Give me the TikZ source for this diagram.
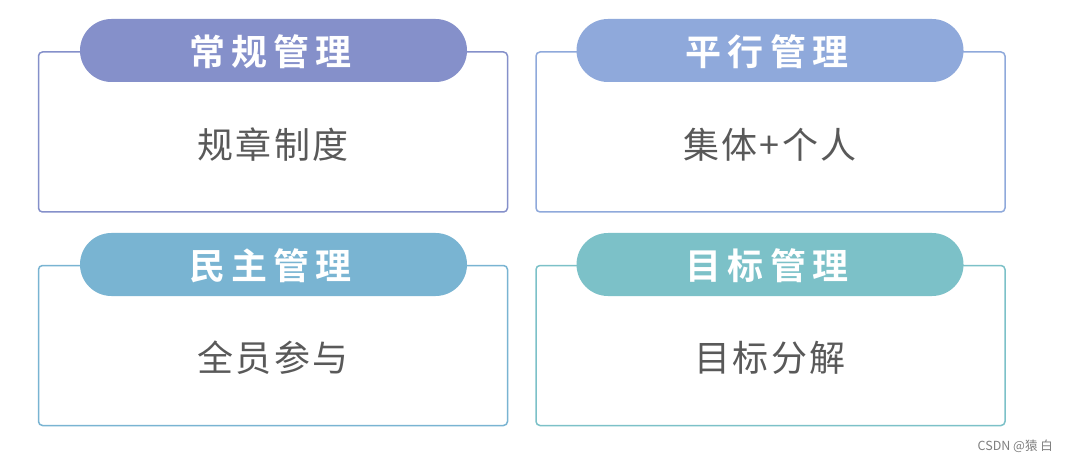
\documentclass[tikz,border=0pt]{standalone}
\usepackage{fontspec}
\setmainfont{Noto Sans CJK SC}
\newfontfamily\cjk{Noto Sans CJK SC}
\newfontfamily\titlefont[LetterSpace=17]{Noto Sans CJK SC Bold}
\newfontfamily\bodyfont[LetterSpace=6]{Noto Sans CJK SC}
\definecolor{purpleA}{HTML}{8590CA}
\definecolor{blueA}{HTML}{8FA9DB}
\definecolor{blueB}{HTML}{79B4D2}
\definecolor{tealA}{HTML}{7CC1C8}
\definecolor{textgray}{HTML}{595959}
\begin{document}
\begin{tikzpicture}[x=1pt, y=-1pt,
				frame/.style={rectangle, draw, line width=1.5pt, rounded corners=4pt, minimum width=469pt, minimum height=160pt, inner sep=0pt},
				pill/.style={rectangle, rounded corners=31.5pt, minimum width=387pt, minimum height=63pt, inner sep=0pt, text=white, font=\titlefont\fontsize{36}{42}\selectfont},
				content/.style={text=textgray, inner sep=0pt, font=\bodyfont\fontsize{36}{42}\selectfont},
				watermarktext/.style={text=gray, inner sep=0pt, font=\cjk\fontsize{12.5}{14}\selectfont}
				]
				\useasboundingbox[fill=white] (0,0) rectangle (1067,462);
				% top row
				\node[frame, draw=purpleA] (routine) at (273,132) {};
				\node[pill, fill=purpleA, text depth=0pt] (routinetitle) at (273.5,50.5) {\hspace{-6pt}常规管理};
				\node[content] (routinetext) at (273,145) {规章制度};
				\node[frame, draw=blueA] (parallel) at (770.5,132) {};
				\node[pill, fill=blueA, text depth=0pt] (paralleltitle) at (770,50.5) {\hspace{-6pt}平行管理};
				\node[content] (paralleltext) at (770,145) {集体+个人};
				% bottom row
				\node[frame, draw=blueB] (democratic) at (273,345.5) {};
				\node[pill, fill=blueB, text depth=0pt] (democratictitle) at (273.5,264.5) {\hspace{-6pt}民主管理};
				\node[content] (democratictext) at (273,358) {全员参与};
				\node[frame, draw=tealA] (objective) at (770.5,345.5) {};
				\node[pill, fill=tealA, text depth=0pt] (objectivetitle) at (770,264.5) {\hspace{-6pt}目标管理};
				\node[content] (objectivetext) at (770,358) {目标分解};
				% watermark
				\node[watermarktext, anchor=east] (watermark) at (1053,446) {CSDN @猿 白};
			\end{tikzpicture}
\end{document}
